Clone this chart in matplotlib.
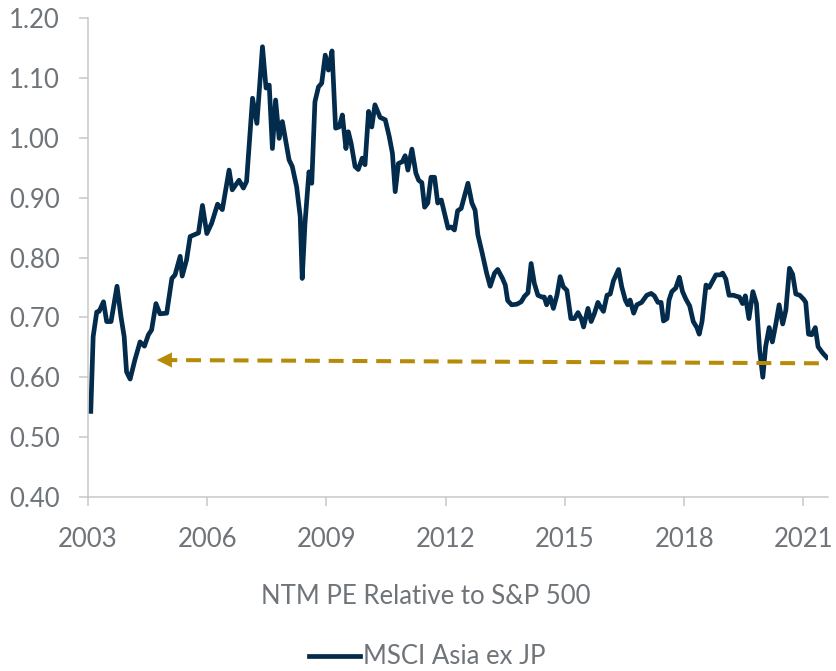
import numpy as np
import matplotlib
matplotlib.use("Agg")
import matplotlib.pyplot as plt

# NTM PE relative to S&P 500, MSCI Asia ex JP
years = [
    2003.07, 2003.13, 2003.22, 2003.28, 2003.39, 2003.47, 2003.58, 2003.73, 2003.83, 2003.91,
    2003.97, 2004.06, 2004.18, 2004.31, 2004.42, 2004.52, 2004.60, 2004.71, 2004.81, 2004.98,
    2005.11, 2005.19, 2005.32, 2005.37, 2005.48, 2005.57, 2005.78, 2005.88, 2005.99, 2006.11,
    2006.26, 2006.38, 2006.55, 2006.63, 2006.80, 2006.91, 2006.99, 2007.14, 2007.25, 2007.39,
    2007.48, 2007.56, 2007.64, 2007.72, 2007.81, 2007.89, 2008.06, 2008.14, 2008.25, 2008.34,
    2008.39, 2008.46, 2008.56, 2008.63, 2008.71, 2008.80, 2008.88, 2008.97, 2009.05, 2009.14,
    2009.23, 2009.32, 2009.40, 2009.49, 2009.55, 2009.62, 2009.72, 2009.80, 2009.90, 2009.97,
    2010.06, 2010.14, 2010.22, 2010.35, 2010.48, 2010.58, 2010.66, 2010.73, 2010.81, 2010.91,
    2010.98, 2011.05, 2011.15, 2011.25, 2011.32, 2011.40, 2011.47, 2011.55, 2011.63, 2011.72,
    2011.80, 2011.89, 2011.97, 2012.06, 2012.14, 2012.22, 2012.30, 2012.39, 2012.47, 2012.56,
    2012.66, 2012.74, 2012.81, 2012.92, 2013.03, 2013.12, 2013.23, 2013.31, 2013.43, 2013.50,
    2013.56, 2013.66, 2013.79, 2013.90, 2013.98, 2014.07, 2014.15, 2014.23, 2014.32, 2014.42,
    2014.48, 2014.54, 2014.63, 2014.71, 2014.80, 2014.88, 2014.96, 2015.05, 2015.15, 2015.24,
    2015.33, 2015.41, 2015.47, 2015.58, 2015.66, 2015.74, 2015.83, 2015.89, 2015.97, 2016.06,
    2016.14, 2016.22, 2016.35, 2016.43, 2016.52, 2016.58, 2016.64, 2016.73, 2016.81, 2016.93,
    2017.06, 2017.17, 2017.25, 2017.34, 2017.42, 2017.48, 2017.57, 2017.62, 2017.69, 2017.79,
    2017.88, 2017.96, 2018.04, 2018.14, 2018.23, 2018.32, 2018.38, 2018.45, 2018.55, 2018.63,
    2018.71, 2018.80, 2018.91, 2018.97, 2019.05, 2019.13, 2019.24, 2019.33, 2019.39, 2019.47,
    2019.54, 2019.63, 2019.73, 2019.82, 2019.90, 2019.98, 2020.05, 2020.14, 2020.22, 2020.31,
    2020.39, 2020.48, 2020.56, 2020.65, 2020.73, 2020.81, 2020.91, 2021.01, 2021.06, 2021.13,
    2021.21, 2021.30, 2021.37, 2021.48, 2021.59,
]
pe_rel = [
    0.543, 0.668, 0.709, 0.710, 0.726, 0.693, 0.693, 0.752, 0.701, 0.668,
    0.609, 0.597, 0.629, 0.659, 0.652, 0.671, 0.679, 0.723, 0.706, 0.707,
    0.765, 0.771, 0.802, 0.769, 0.796, 0.835, 0.841, 0.887, 0.840, 0.857,
    0.889, 0.880, 0.946, 0.913, 0.929, 0.916, 0.927, 1.066, 1.024, 1.152,
    1.083, 1.088, 0.982, 1.063, 0.999, 1.027, 0.963, 0.952, 0.918, 0.868,
    0.765, 0.857, 0.943, 0.924, 1.060, 1.085, 1.091, 1.138, 1.113, 1.145,
    1.016, 1.018, 1.038, 0.982, 1.010, 0.991, 0.952, 0.947, 0.966, 0.955,
    1.044, 1.018, 1.055, 1.034, 1.030, 1.002, 0.974, 0.910, 0.957, 0.960,
    0.970, 0.946, 0.981, 0.941, 0.929, 0.925, 0.884, 0.891, 0.934, 0.934,
    0.891, 0.896, 0.874, 0.849, 0.851, 0.846, 0.878, 0.882, 0.902, 0.924,
    0.891, 0.879, 0.838, 0.807, 0.774, 0.752, 0.774, 0.780, 0.765, 0.754,
    0.728, 0.721, 0.722, 0.726, 0.735, 0.741, 0.790, 0.757, 0.737, 0.734,
    0.734, 0.721, 0.734, 0.715, 0.737, 0.768, 0.751, 0.745, 0.698, 0.698,
    0.708, 0.698, 0.684, 0.715, 0.693, 0.706, 0.725, 0.718, 0.710, 0.737,
    0.739, 0.761, 0.780, 0.751, 0.729, 0.721, 0.729, 0.707, 0.721, 0.725,
    0.737, 0.740, 0.736, 0.725, 0.725, 0.694, 0.698, 0.729, 0.743, 0.749,
    0.767, 0.743, 0.731, 0.719, 0.693, 0.683, 0.672, 0.693, 0.754, 0.750,
    0.760, 0.771, 0.771, 0.774, 0.764, 0.737, 0.737, 0.735, 0.734, 0.723,
    0.736, 0.698, 0.743, 0.723, 0.645, 0.600, 0.651, 0.683, 0.659, 0.690,
    0.721, 0.689, 0.712, 0.782, 0.772, 0.739, 0.737, 0.730, 0.725, 0.672,
    0.671, 0.683, 0.651, 0.641, 0.633,
]

# dashed reference arrow (right end -> arrow tip on the left)
ref_years = [2021.39, 2004.73]
ref_vals = [0.6233, 0.6288]

tick_years = [2003, 2006, 2009, 2012, 2015, 2018, 2021]
y_ticks = [0.40, 0.50, 0.60, 0.70, 0.80, 0.90, 1.00, 1.10, 1.20]

navy = "#032B4C"
gold = "#B58B07"
grey_txt = "#6E7479"
grey_ax = "#C8C8C8"

plt.rcParams["font.family"] = ["Lato", "DejaVu Sans"]

fig = plt.figure(figsize=(8.36, 6.71), dpi=100)
ax = fig.add_axes([88 / 836, 174 / 671, 740 / 836, 479 / 671])

ax.plot(years, pe_rel, color=navy, lw=3.4, solid_joinstyle="round", label="MSCI Asia ex JP")

# dashed line + arrow head
ax.plot(ref_years, ref_vals, color=gold, lw=2.9, dashes=(3.7, 2.2))
ax.annotate("", xy=(ref_years[1], ref_vals[1]), xytext=(ref_years[1] + 0.6, ref_vals[1]),
            arrowprops=dict(arrowstyle="-|>", color=gold, lw=0.1, mutation_scale=27,
                            shrinkA=0, shrinkB=0))

ax.set_xlim(2003.0, 2021.62)
ax.set_ylim(0.40, 1.20)
ax.set_xticks(tick_years)
ax.set_xticklabels([str(t) for t in tick_years])
ax.set_yticks(y_ticks)
ax.set_yticklabels([f"{v:.2f}" for v in y_ticks])

for s in ["top", "right"]:
    ax.spines[s].set_visible(False)
for s in ["left", "bottom"]:
    ax.spines[s].set_color(grey_ax)
    ax.spines[s].set_linewidth(1.1)

ax.tick_params(axis="both", colors=grey_ax, labelcolor=grey_txt, labelsize=18.5,
               length=6.5, width=1.1)
ax.tick_params(axis="x", pad=15)
ax.tick_params(axis="y", pad=14)

fig.text(426 / 836, 1 - 597 / 671, "NTM PE Relative to S&P 500", color=grey_txt,
         fontsize=18.5, ha="center", va="center")

fig.legend(loc="center", bbox_to_anchor=(427 / 836, 1 - 657 / 671), frameon=False,
           fontsize=18.5, labelcolor=grey_txt, handlelength=2.0, handletextpad=0.1)

fig.savefig("out.png", dpi=100)
